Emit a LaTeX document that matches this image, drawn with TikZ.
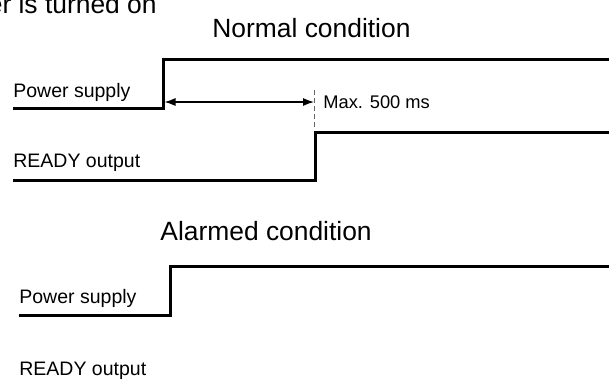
\documentclass[tikz,border=0pt]{standalone}
\usepackage{fontspec}
\setmainfont{Liberation Sans}
\usetikzlibrary{arrows.meta}
\definecolor{dashgray}{RGB}{100,100,100}

\begin{document}
\begin{tikzpicture}[x=0.5pt, y=-0.5pt,
    signal/.style={line width=1.5pt},
    title/.style={inner sep=0pt, anchor=base west, font=\fontsize{13.2}{15}\selectfont},
    lbl/.style={inner sep=0pt, anchor=base west, font=\fontsize{9.75}{11}\selectfont}]
    \useasboundingbox (0,0) rectangle (609,381);

    % Titulo (cortado arriba)
    \node[title, anchor=base east] (head) at (157,13) {er is turned on};

    % Condicion normal
    \node[title] (normal) at (212,37) {Normal condition};
    \node[lbl] (ps1) at (13,97) {Power supply};
    \node[lbl] (rdy1) at (13,167) {READY output};

    % Senal de alimentacion
    \coordinate (p1a) at (13,108);
    \coordinate (p1b) at (163,108);
    \coordinate (p1c) at (163,59);
    \coordinate (p1d) at (612,59);
    \draw[signal] (p1a) -- (p1b) -- (p1c) -- (p1d);

    % Senal READY
    \coordinate (r1a) at (13,180);
    \coordinate (r1b) at (315,180);
    \coordinate (r1c) at (315,132);
    \coordinate (r1d) at (612,132);
    \draw[signal] (r1a) -- (r1b) -- (r1c) -- (r1d);

    % Tiempo maximo
    \coordinate (d1) at (314,90);
    \coordinate (d2) at (314,129);
    \draw[dashgray, line width=0.5pt, dash pattern=on 2.5pt off 1.5pt] (d1) -- (d2);
    \coordinate (t1) at (164.5,102);
    \coordinate (t2) at (314,102);
    \draw[{Latex[length=5.5pt,width=4pt]}-{Latex[length=5.5pt,width=4pt]}, line width=0.6pt] (t1) -- (t2);
    \node[lbl, font=\fontsize{9.15}{11}\selectfont] (maxt) at (323,108) {Max. 500 ms};

    % Condicion de alarma
    \node[title] (alarm) at (160,240) {Alarmed condition};
    \node[lbl] (ps2) at (19,303) {Power supply};
    \node[lbl] (rdy2) at (19,375) {READY output};

    \coordinate (p2a) at (19,315);
    \coordinate (p2b) at (170,315);
    \coordinate (p2c) at (170,266);
    \coordinate (p2d) at (612,266);
    \draw[signal] (p2a) -- (p2b) -- (p2c) -- (p2d);
\end{tikzpicture}
\end{document}
